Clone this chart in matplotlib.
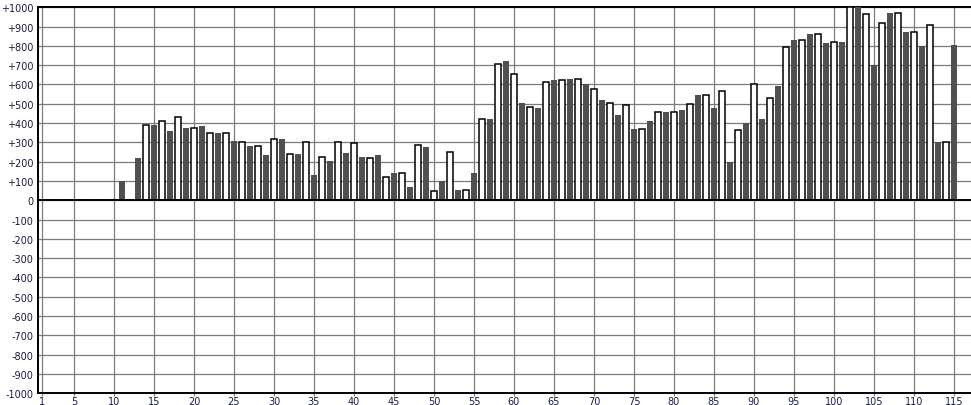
import numpy as np
import matplotlib
matplotlib.use("Agg")
import matplotlib.pyplot as plt

# dark bars sit on the odd positions 1,3,...,115
dark_x = list(range(1, 116, 2))
dark_vals = [0, 0, 0, 0, 0, 100, 220, 390, 360, 375, 385, 350, 305, 280, 235,
             320, 240, 130, 205, 245, 225, 235, 140, 70, 275, 100, 55, 140,
             420, 720, 505, 480, 625, 630, 600, 520, 440, 370, 410, 460, 470,
             545, 480, 200, 400, 420, 590, 830, 860, 815, 820, 1000, 700, 970,
             870, 800, 300, 805]

# white (outlined) bars sit on the even positions 2,4,...,114
white_x = list(range(2, 115, 2))
white_vals = [0, 0, 0, 0, 0, 0, 390, 410, 430, 375, 350, 350, 300, 280, 320,
              240, 300, 225, 300, 295, 220, 120, 140, 285, 50, 250, 55, 420,
              705, 655, 485, 615, 625, 630, 575, 505, 495, 370, 460, 460, 500,
              545, 565, 365, 600, 530, 795, 830, 860, 820, 1000, 965, 920, 970,
              870, 910, 300]

x_ticks = [1] + list(range(5, 116, 5))
y_ticks = list(range(-1000, 1001, 100))

fig = plt.figure(figsize=(9.71, 4.06), dpi=100)
ax = fig.add_axes([38 / 971, 0.0288, 1 - 38 / 971, 0.9508])

ax.bar(dark_x, dark_vals, width=0.74, color="#505050", zorder=3)
ax.bar(white_x, white_vals, width=0.68, color="white", edgecolor="black",
       linewidth=1.1, zorder=3)
ax.axhline(0, color="black", linewidth=1.4, zorder=4)

ax.set_xlim(0.5, 117.125)
ax.set_ylim(-1000, 1000)
ax.set_xticks(x_ticks)
ax.set_xticklabels([str(t) for t in x_ticks])
ax.set_yticks(y_ticks)
ax.set_yticklabels([("+%d" % t) if t > 0 else str(t) for t in y_ticks])

ax.grid(True, color="#7a7a7a", linewidth=0.9, zorder=0)
ax.set_axisbelow(True)
ax.tick_params(axis="x", length=2.2, width=0.9, color="#7a7a7a", pad=0,
               labelsize=7, labelcolor="#1a1a40")
ax.tick_params(axis="y", length=0, pad=3, labelsize=7, labelcolor="#1a1a40")

for side in ["left", "top", "bottom"]:
    ax.spines[side].set_color("black")
    ax.spines[side].set_linewidth(1.4)
ax.spines["right"].set_visible(False)

fig.savefig("out.png", dpi=100)
